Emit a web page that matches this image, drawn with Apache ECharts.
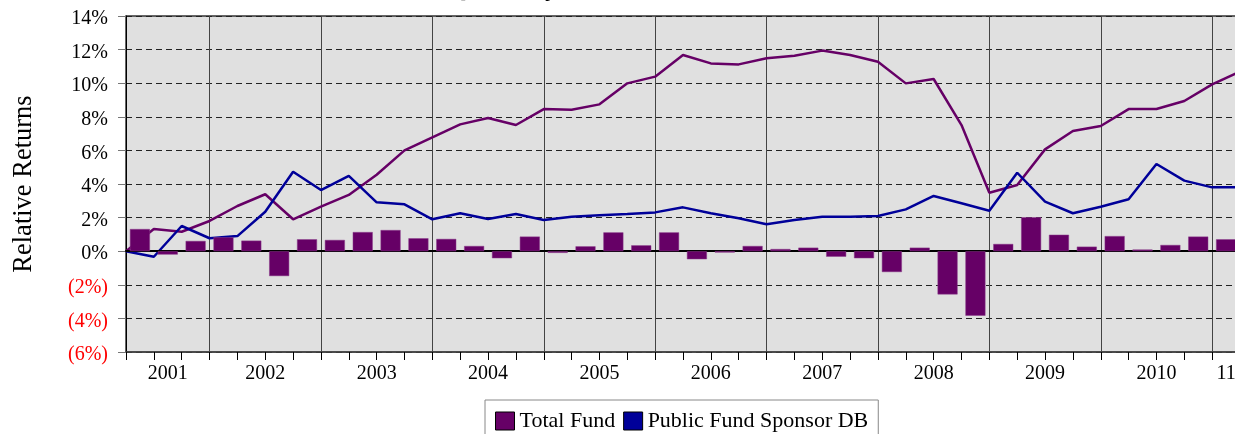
<!DOCTYPE html>
<html>
<head>
<meta charset="utf-8">
<script src="https://cdn.jsdelivr.net/npm/echarts@6/dist/echarts.min.js"></script>
<style>
  html, body { margin: 0; padding: 0; background: #fff; }
  #chart { width: 1235px; height: 434px; }
</style>
</head>
<body>
<div id="chart"></div>
<script>
// quarters shown as bars (band centres)
const quarters = [
  '2001 Q2', '2001 Q3', '2001 Q4',
  '2002 Q1', '2002 Q2', '2002 Q3', '2002 Q4',
  '2003 Q1', '2003 Q2', '2003 Q3', '2003 Q4',
  '2004 Q1', '2004 Q2', '2004 Q3', '2004 Q4',
  '2005 Q1', '2005 Q2', '2005 Q3', '2005 Q4',
  '2006 Q1', '2006 Q2', '2006 Q3', '2006 Q4',
  '2007 Q1', '2007 Q2', '2007 Q3', '2007 Q4',
  '2008 Q1', '2008 Q2', '2008 Q3', '2008 Q4',
  '2009 Q1', '2009 Q2', '2009 Q3', '2009 Q4',
  '2010 Q1', '2010 Q2', '2010 Q3', '2010 Q4',
  '2011 Q1'
]
// quarter ends, where the cumulative lines have their points
const quarterEnds = [
  'Mar 2001', 'Jun 2001', 'Sep 2001', 'Dec 2001',
  'Mar 2002', 'Jun 2002', 'Sep 2002', 'Dec 2002',
  'Mar 2003', 'Jun 2003', 'Sep 2003', 'Dec 2003',
  'Mar 2004', 'Jun 2004', 'Sep 2004', 'Dec 2004',
  'Mar 2005', 'Jun 2005', 'Sep 2005', 'Dec 2005',
  'Mar 2006', 'Jun 2006', 'Sep 2006', 'Dec 2006',
  'Mar 2007', 'Jun 2007', 'Sep 2007', 'Dec 2007',
  'Mar 2008', 'Jun 2008', 'Sep 2008', 'Dec 2008',
  'Mar 2009', 'Jun 2009', 'Sep 2009', 'Dec 2009',
  'Mar 2010', 'Jun 2010', 'Sep 2010', 'Dec 2010',
  'Mar 2011'
]
// year labels: partial years sit in the middle of their visible quarters,
// full years sit on the mid-year quarter end
const partYearLabels = { '2001 Q3': '2001', '2011 Q1': '11' }
const yearLabels = {
  'Jun 2002': '2002', 'Jun 2003': '2003', 'Jun 2004': '2004',
  'Jun 2005': '2005', 'Jun 2006': '2006', 'Jun 2007': '2007',
  'Jun 2008': '2008', 'Jun 2009': '2009', 'Jun 2010': '2010'
}

// quarterly relative return of the total fund (bars)
const quarterlyRelative = [
  1.32, -0.20, 0.61, 0.83, 0.63, -1.48, 0.71, 0.67, 1.14, 1.26,
  0.77, 0.73, 0.31, -0.42, 0.87, -0.10, 0.29, 1.12, 0.35, 1.12,
  -0.48, -0.08, 0.31, 0.13, 0.21, -0.33, -0.42, -1.24, 0.21, -2.57,
  -3.84, 0.43, 2.02, 0.98, 0.27, 0.90, 0.10, 0.37, 0.87, 0.71
]
// cumulative relative returns
const totalFundCum = [
  0, 1.32, 1.16, 1.80, 2.69, 3.39, 1.90, 2.65, 3.35, 4.55,
  6.00, 6.78, 7.55, 7.93, 7.51, 8.46, 8.42, 8.74, 9.99, 10.39,
  11.68, 11.18, 11.12, 11.48, 11.64, 11.94, 11.68, 11.28, 9.99, 10.25,
  7.51, 3.48, 3.94, 6.06, 7.15, 7.45, 8.46, 8.46, 8.94, 9.93,
  10.70
]
const publicFundCum = [
  0, -0.33, 1.50, 0.77, 0.90, 2.35, 4.73, 3.64, 4.48, 2.91,
  2.79, 1.90, 2.26, 1.92, 2.21, 1.86, 2.05, 2.14, 2.21, 2.31,
  2.61, 2.26, 1.96, 1.60, 1.86, 2.05, 2.05, 2.10, 2.49, 3.29,
  2.85, 2.41, 4.67, 2.95, 2.26, 2.65, 3.09, 5.19, 4.20, 3.80,
  3.80
]

const purple = '#660066'
const blue = '#000099'
const serif = 'Liberation Serif'

const chart = echarts.init(document.getElementById('chart'))
chart.setOption({
  animation: false,
  textStyle: { fontFamily: serif },
  title: {
    text: 'Cumulative and Quarterly Relative Returns',
    left: 262,
    top: -24,
    padding: 0,
    textStyle: { fontFamily: serif, fontWeight: 'bold', fontSize: 26, color: '#000' }
  },
  legend: {
    left: 485,
    top: 400,
    padding: [10, 10, 10, 10],
    itemGap: 8,
    itemWidth: 19,
    itemHeight: 18,
    borderColor: '#888',
    borderWidth: 1,
    textStyle: { fontFamily: serif, fontSize: 22, color: '#000' },
    data: [
      { name: 'Total Fund', icon: 'rect', itemStyle: { color: purple, borderColor: '#000', borderWidth: 1 } },
      { name: 'Public Fund Sponsor DB', icon: 'rect', itemStyle: { color: blue, borderColor: '#000', borderWidth: 1 } }
    ]
  },
  grid: {
    left: 126,
    top: 16,
    width: 1114,
    height: 336,
    outerBoundsMode: 'none',
    show: true,
    backgroundColor: '#e0e0e0',
    borderColor: '#333',
    borderWidth: 1.5
  },
  xAxis: [
    {
      // quarter bands: ticks, year dividers, partial-year labels
      type: 'category',
      data: quarters,
      position: 'bottom',
      boundaryGap: true,
      axisLine: { onZero: false, lineStyle: { color: '#444', width: 1.5 } },
      axisTick: { show: true, interval: 0, length: 8, lineStyle: { color: '#000' } },
      axisLabel: {
        interval: 0,
        margin: 12,
        fontFamily: serif,
        fontSize: 20,
        color: '#000',
        formatter: v => partYearLabels[v] || ''
      },
      splitLine: {
        show: true,
        interval: (i, v) => v.endsWith('Q1'),
        lineStyle: { color: '#444', width: 1 }
      }
    },
    {
      // quarter ends: line points and full-year labels
      type: 'category',
      data: quarterEnds,
      position: 'bottom',
      boundaryGap: false,
      axisLine: { show: false, onZero: false },
      axisTick: { show: false },
      axisLabel: {
        interval: 0,
        margin: 12,
        fontFamily: serif,
        fontSize: 20,
        color: '#000',
        formatter: v => yearLabels[v] || ''
      },
      splitLine: { show: false }
    },
    {
      // solid zero line
      type: 'category',
      data: quarters,
      position: 'bottom',
      z: 3,
      axisLine: { onZero: true, lineStyle: { color: '#000', width: 2 } },
      axisTick: { show: false },
      axisLabel: { show: false },
      splitLine: { show: false }
    }
  ],
  yAxis: {
    type: 'value',
    min: -6,
    max: 14,
    interval: 2,
    name: 'Relative Returns',
    nameLocation: 'middle',
    nameRotate: 90,
    nameGap: 88,
    nameTextStyle: { fontFamily: serif, fontSize: 26.5, color: '#000' },
    axisLine: { show: true, onZero: false, lineStyle: { color: '#000', width: 1 } },
    axisTick: { show: true, length: 8, lineStyle: { color: '#777' } },
    axisLabel: {
      margin: 18,
      verticalAlign: 'top',
      lineHeight: 6,
      fontFamily: serif,
      fontSize: 20,
      color: v => (v < 0 ? '#ff0000' : '#000'),
      formatter: v => (v < 0 ? '(' + (-v) + '%)' : v + '%')
    },
    splitLine: { show: true, lineStyle: { color: '#222', width: 1, type: [6, 4] } }
  },
  series: [
    {
      name: 'Total Fund',
      type: 'line',
      xAxisIndex: 1,
      data: totalFundCum,
      showSymbol: false,
      symbol: 'none',
      z: 2,
      lineStyle: { color: purple, width: 2.5 },
      itemStyle: { color: purple }
    },
    {
      name: 'Public Fund Sponsor DB',
      type: 'line',
      xAxisIndex: 1,
      data: publicFundCum,
      showSymbol: false,
      symbol: 'none',
      z: 2,
      lineStyle: { color: blue, width: 2.5 },
      itemStyle: { color: blue }
    },
    {
      name: 'Total Fund',
      type: 'bar',
      xAxisIndex: 0,
      data: quarterlyRelative,
      barWidth: 20,
      z: 3,
      itemStyle: { color: purple, borderColor: '#8a3a8a', borderWidth: 0.5 }
    }
  ]
})
</script>
</body>
</html>
